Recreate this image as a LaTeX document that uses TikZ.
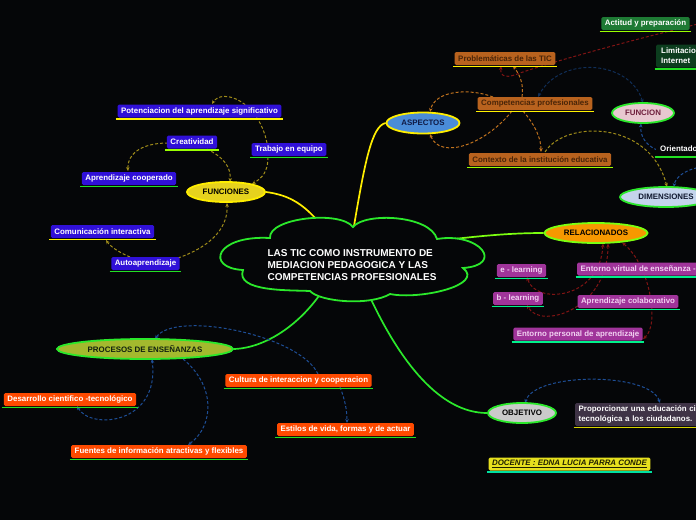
\documentclass[tikz,border=0pt]{standalone}
\usepackage{fontspec}
\setmainfont{Liberation Sans}
\usetikzlibrary{shapes.geometric,arrows.meta,calc}
\pgfdeclarelayer{bg}
\pgfdeclarelayer{links}
\pgfsetlayers{bg,links,main}
\definecolor{bgc}{HTML}{050608}
\definecolor{cgreen}{HTML}{2BE82B}
\definecolor{cyel}{HTML}{FFEE00}
\definecolor{clime}{HTML}{7CFF10}
\definecolor{fFun}{HTML}{E6D21E}
\definecolor{fAsp}{HTML}{4A8CD8}
\definecolor{tAsp}{HTML}{101A44}
\definecolor{fFunc}{HTML}{E8C8D0}
\definecolor{tFunc}{HTML}{6E1E3C}
\definecolor{fDim}{HTML}{C4D4EC}
\definecolor{tDim}{HTML}{101830}
\definecolor{fRel}{HTML}{F79800}
\definecolor{fProc}{HTML}{A3B92E}
\definecolor{tProc}{HTML}{102010}
\definecolor{fObj}{HTML}{CACACA}
\definecolor{lBlue}{HTML}{3010D8}
\definecolor{lBrown}{HTML}{B8621E}
\definecolor{tBrown}{HTML}{4A2508}
\definecolor{lGreen}{HTML}{1E7A34}
\definecolor{lDkGreen}{HTML}{0C3D1E}
\definecolor{lMag}{HTML}{A0349A}
\definecolor{tMag}{HTML}{F2D2F2}
\definecolor{lRed}{HTML}{FF4A00}
\definecolor{lPurp}{HTML}{3F3346}
\definecolor{lDoc}{HTML}{E6E01E}
\definecolor{tDoc}{HTML}{202000}
\definecolor{ulY}{HTML}{FFF200}
\definecolor{ulL}{HTML}{9AFF00}
\definecolor{ulG}{HTML}{22E022}
\definecolor{ulS}{HTML}{00F08A}
\definecolor{ulP}{HTML}{D8D400}
\definecolor{ulD}{HTML}{00E0A0}
\definecolor{dY}{HTML}{A08C1A}
\definecolor{dO}{HTML}{C0721E}
\definecolor{dR}{HTML}{801414}
\definecolor{dB}{HTML}{1E4E96}
\definecolor{dN}{HTML}{102E58}
\newcommand{\lblfont}{\fontsize{7.9}{9.8}\selectfont\bfseries}
\newcommand{\ellfont}{\fontsize{7.9}{9}\selectfont\bfseries}
\newcommand{\titlefont}{\fontsize{10}{11.6}\selectfont\bfseries}
\tikzset{
  lbl/.style n args={3}{rectangle, rounded corners=1.5pt, fill=#1, text=#2,
    font=\lblfont, inner xsep=3.5pt, inner ysep=0pt, minimum height=13pt,
    append after command={([yshift=-1.4pt,xshift=-1.5pt]\tikzlastnode.south west)
      edge[draw=#3, line width=1.6pt, -] ([yshift=-1.4pt,xshift=1.5pt]\tikzlastnode.south east)}},
  ell/.style n args={3}{ellipse, fill=#1, draw=#2, text=#3, line width=1.8pt,
    inner sep=0pt, font=\ellfont},
  mainlink/.style={line width=1.7pt},
  cloudline/.style={draw=cgreen, fill=bgc, line width=1.8pt},
  dlink/.style={line width=1pt, dash pattern=on 3pt off 2pt,
    -{Stealth[length=4pt,width=3.5pt]}},
  dlinkb/.style={line width=1pt, dash pattern=on 3pt off 2pt,
    {Stealth[length=4pt,width=3.5pt]}-{Stealth[length=4pt,width=3.5pt]}},
}
\begin{document}
\begin{tikzpicture}[x=1pt,y=-1pt]
\begin{pgfonlayer}{bg}
\fill[bgc] (0,0) rectangle (696,520);
\end{pgfonlayer}
\useasboundingbox (0,0) rectangle (696,520);

% central cloud
\coordinate (root) at (350,262);
\path[cloudline] (270,238) .. controls (268,218) and (340,210) .. (353,227)
  .. controls (365,212) and (430,215) .. (437,239)
  .. controls (480,232) and (505,265) .. (463,268)
  .. controls (485,285) and (420,300) .. (390,294)
  .. controls (370,306) and (320,302) .. (310,291)
  .. controls (290,290) and (235,292) .. (243,270)
  .. controls (205,268) and (215,235) .. (270,238) -- cycle;
\node[font=\titlefont, text=white, align=left] (roottxt) at (352,265)
  {LAS TIC COMO INSTRUMENTO DE\\MEDIACION PEDAGOGICA Y LAS\\COMPETENCIAS PROFESIONALES};

% main ellipses
\node[ell={fFun}{cyel}{black}, minimum width=78pt, minimum height=20pt] (funs) at (226,192) {FUNCIONES};
\node[ell={fAsp}{cyel}{tAsp}, minimum width=73pt, minimum height=21pt] (asp) at (423,123) {ASPECTOS};
\node[ell={fFunc}{cgreen}{tFunc}, minimum width=62pt, minimum height=20pt] (func) at (643,113) {FUNCION};
\node[ell={fDim}{cgreen}{tDim}, minimum width=92pt, minimum height=20pt] (dim) at (666,197) {DIMENSIONES};
\node[ell={fRel}{clime}{black}, minimum width=103pt, minimum height=20pt] (rel) at (596,233) {RELACIONADOS};
\node[ell={fProc}{cgreen}{tProc}, minimum width=176pt, minimum height=20pt] (proc) at (145,349) {PROCESOS DE ENSEÑANZAS};
\node[ell={fObj}{cgreen}{black}, minimum width=68pt, minimum height=20pt] (obj) at (522,413) {OBJETIVO};

% FUNCIONES children
\node[lbl={lBlue}{white}{ulY}] (pot) at (199.5,111) {Potenciacion del aprendizaje significativo};
\node[lbl={lBlue}{white}{ulL}] (crea) at (192,142) {Creatividad};
\node[lbl={lBlue}{white}{ulG}] (trab) at (289,149.5) {Trabajo en equipo};
\node[lbl={lBlue}{white}{ulG}] (apco) at (129,178.5) {Aprendizaje cooperado};
\node[lbl={lBlue}{white}{ulY}] (comu) at (102.5,231.5) {Comunicación interactiva};
\node[lbl={lBlue}{white}{ulG}] (auto) at (145.5,263.5) {Autoaprendizaje};

% ASPECTOS children
\node[lbl={lBrown}{tBrown}{ulY}] (prob) at (505,58.5) {Problemáticas de las TIC};
\node[lbl={lBrown}{tBrown}{ulY}] (comp) at (535,103.5) {Competencias profesionales};
\node[lbl={lBrown}{tBrown}{ulL}] (cont) at (540,159.5) {Contexto de la institución educativa};

% FUNCION / DIMENSIONES children
\node[lbl={lGreen}{white}{ulL}] (acti) at (645.5,23.5) {Actitud y preparación};
\node[lbl={lDkGreen}{white}{ulG}, anchor=west, align=left, minimum height=23pt,
  minimum width=60pt, text width=50pt] (limi) at (656,56) {Limitacion\\Internet};
\node[lbl={bgc}{white}{ulG}, anchor=west, minimum width=48pt, text width=40pt] (orie) at (656,149) {Orientado};

% RELACIONADOS children
\node[lbl={lMag}{tMag}{ulS}] (elea) at (521.5,270.5) {e - learning};
\node[lbl={lMag}{tMag}{ulS}] (blea) at (518,298.5) {b - learning};
\node[lbl={lMag}{tMag}{ulS}, anchor=west] (envi) at (577,269) {Entorno virtual de enseñanza -};
\node[lbl={lMag}{tMag}{ulS}] (apcol) at (628,301.5) {Aprendizaje colaborativo};
\node[lbl={lMag}{tMag}{ulS}] (enpe) at (578,334) {Entorno personal de aprendizaje};

% PROCESOS children
\node[lbl={lRed}{white}{ulG}] (desa) at (70,399.5) {Desarrollo cientifico -tecnológico};
\node[lbl={lRed}{white}{ulG}] (cult) at (298.5,380.5) {Cultura de interaccion y cooperacion};
\node[lbl={lRed}{white}{ulG}] (esti) at (345.5,429.5) {Estilos de vida, formas y de actuar};
\node[lbl={lRed}{white}{ulG}] (fuen) at (159,451.5) {Fuentes de información atractivas y flexibles};

% OBJETIVO child
\node[lbl={lPurp}{white}{ulP}, anchor=west, align=left, minimum height=23pt,
  text width=130pt] (prop) at (575,414.5) {Proporcionar una educación cie\\tecnológica a los ciudadanos.};

% docente
\node[lbl={lDoc}{tDoc}{ulD}] (doce) at (569.5,464) {\itshape\underline{DOCENTE : EDNA LUCIA PARRA CONDE}};

\coordinate (offA) at (702,23);
\coordinate (offB) at (702,167);

\begin{pgfonlayer}{links}
% main connectors
\draw[mainlink, cyel] (funs.east) .. controls (290,195) and (305,205) .. ([shift={(-28,-36)}]root);
\draw[mainlink, cyel] ([shift={(3,-30)}]root) .. controls (365,160) and (372,126) .. (asp.west);
\draw[mainlink, clime] ([shift={(95,-22)}]root) .. controls (480,236) and (510,233) .. (rel.west);
\draw[mainlink, cgreen] ([shift={(-27,28)}]root) .. controls (300,325) and (265,348) .. (proc.east);
\draw[mainlink, cgreen] ([shift={(19,33)}]root) .. controls (400,362) and (440,413) .. (obj.west);

% FUNCIONES relations
\draw[dlink, dY] ([shift={(-22,-6.5)}]trab.center) .. controls (258,100) and (222,88) .. ([shift={(12.5,-7)}]pot.center);
\draw[dlink, dY] ([shift={(-21,7.5)}]trab.center) .. controls (268,172) and (262,178) .. ([shift={(26,-8)}]funs.center);
\draw[dlink, dY] ([shift={(15,7)}]crea.center) .. controls (225,158) and (231,168) .. ([shift={(4,-10)}]funs.center);
\draw[dlink, dY] ([shift={(-24,1)}]crea.center) .. controls (140,143) and (127,155) .. ([shift={(-1,-7.5)}]apco.center);
\draw[dlink, dY] ([shift={(32.5,-5.5)}]auto.center) .. controls (215,245) and (228,225) .. ([shift={(1,11)}]funs.center);
\draw[dlink, dY] ([shift={(-15.5,-6.5)}]auto.center) .. controls (118,252) and (110,246) .. ([shift={(3.5,8.5)}]comu.center);

% ASPECTOS relations
\draw[dlink, dO] ([shift={(-42,-6.5)}]comp.center) .. controls (470,88) and (435,90) .. ([shift={(7,-11)}]asp.center);
\draw[dlink, dO] ([shift={(-23,7.5)}]comp.center) .. controls (485,145) and (440,160) .. ([shift={(7,11)}]asp.center);
\draw[dlink, dO] ([shift={(-13,-6.5)}]comp.center) .. controls (524,85) and (520,75) .. ([shift={(8,7.5)}]prob.center);
\draw[dlink, dO] ([shift={(-12,7.5)}]comp.center) .. controls (535,125) and (541,138) .. ([shift={(1,-7.5)}]cont.center);
\draw[dlink, dY] ([shift={(5,-7.5)}]cont.center) .. controls (565,120) and (650,120) .. ([shift={(1,-10)}]dim.center);
\draw[dlink, dR] (offA) .. controls (600,48) and (540,66) .. (520,73) .. controls (508,78) and (500,78) .. ([shift={(-4,7.5)}]prob.center);
\draw[dlinkb, dN] ([shift={(0,-10)}]func.center) .. controls (630,60) and (560,55) .. ([shift={(3,-6.5)}]comp.center);
\draw[dlink, dB] ([shift={(1,1)}]orie.west) .. controls (645,145) and (640,135) .. ([shift={(-2,10.5)}]func.center);
\draw[dlink, dB] (offB) .. controls (685,169) and (675,178) .. ([shift={(8,-10)}]dim.center);

% RELACIONADOS relations
\draw[dlinkb, dR] ([shift={(7,10.5)}]rel.center) .. controls (600,300) and (535,305) .. ([shift={(5.5,6.5)}]elea.center);
\draw[dlinkb, dR] ([shift={(12,10.5)}]rel.center) .. controls (608,310) and (540,330) .. ([shift={(9,6.5)}]blea.center);
\draw[dlinkb, dR] ([shift={(26,9.5)}]rel.center) .. controls (650,265) and (660,325) .. ([shift={(65,5)}]enpe.center);

% PROCESOS relations
\draw[dlink, dB] ([shift={(19.5,-6.5)}]cult.center) .. controls (300,335) and (175,310) .. ([shift={(10,-10)}]proc.center);
\draw[dlink, dB] ([shift={(41.5,6.5)}]cult.center) .. controls (345,400) and (347,410) .. ([shift={(1.5,-6.5)}]esti.center);
\draw[dlinkb, dB] ([shift={(7,6.5)}]desa.center) .. controls (90,430) and (160,425) .. ([shift={(7,10)}]proc.center);
\draw[dlink, dB] ([shift={(38,10)}]proc.center) .. controls (215,385) and (215,425) .. ([shift={(29,-6.5)}]fuen.center);

% OBJETIVO relation
\draw[dlinkb, dB] ([shift={(85,-11.5)}]prop.west) .. controls (650,372) and (535,372) .. ([shift={(3,-10)}]obj.center);
\end{pgfonlayer}
\end{tikzpicture}
\end{document}
